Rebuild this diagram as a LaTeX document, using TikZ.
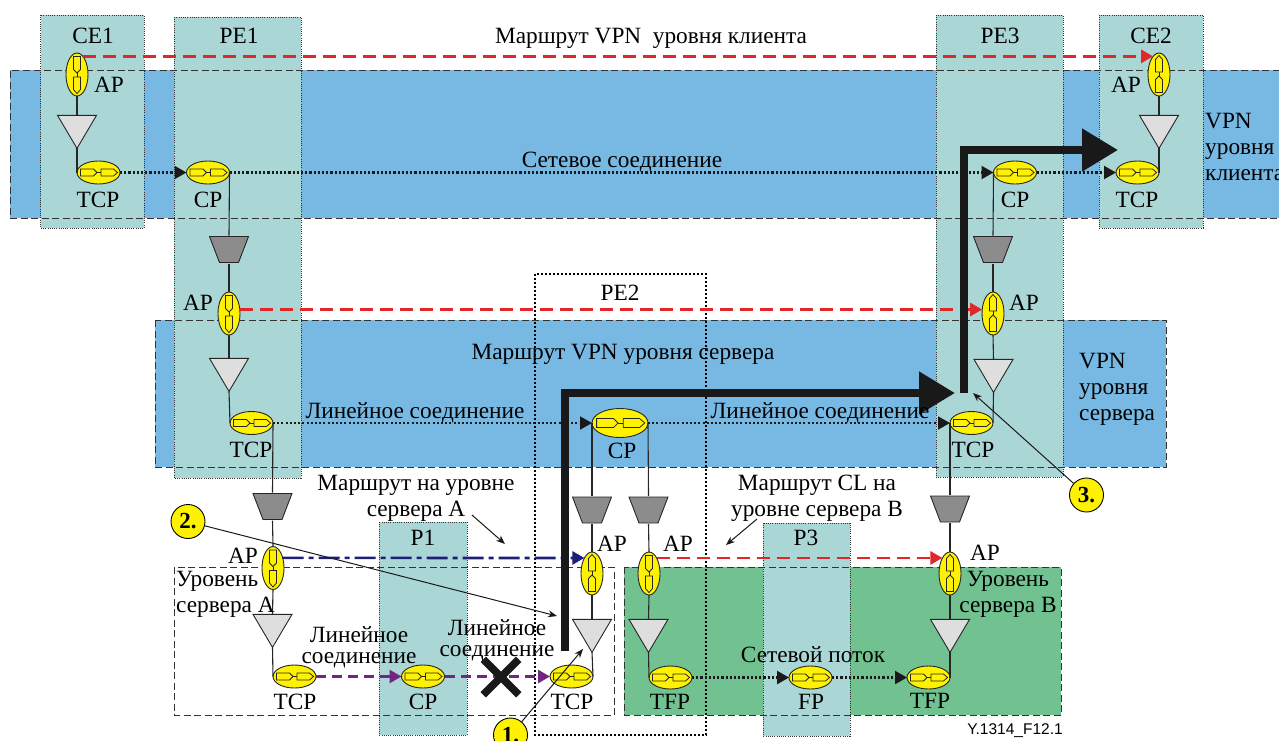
\documentclass[tikz,border=0pt]{standalone}
\usepackage{fontspec}
\setmainfont{Liberation Serif}
\newfontfamily\figsans{Liberation Sans}
\usetikzlibrary{arrows.meta,shapes.geometric,shapes.misc}
\definecolor{bandblue}{HTML}{78B9E4}
\definecolor{zoneteal}{HTML}{AAD6D6}
\definecolor{zonegreen}{HTML}{72C191}
\definecolor{portyellow}{HTML}{FFF200}
\definecolor{routered}{HTML}{E0282A}
\definecolor{routenavy}{HTML}{1E1E78}
\definecolor{linkpurple}{HTML}{72267F}
\newcommand{\portglyphh}[1]{%
  \begin{scope}[shift={(path picture bounding box.center)},draw=black!85,line width=0.8pt]
    \draw ({-18*#1},-3.5*#1) -- ({-5*#1},-3.5*#1) -- ({-1.5*#1},0) -- ({-5*#1},3.5*#1) -- ({-18*#1},3.5*#1) -- cycle;
    \draw ({-1.5*#1},0) -- ({2.5*#1},0);
    \draw ({2.5*#1},-3.5*#1) -- ({15*#1},-3.5*#1) -- ({19*#1},0) -- ({15*#1},3.5*#1) -- ({2.5*#1},3.5*#1) -- cycle;
  \end{scope}}
\newcommand{\portglyphv}[1]{%
  \begin{scope}[shift={(path picture bounding box.center)},draw=black!85,line width=0.8pt]
    \draw (-3.5,{-18*#1}) -- (-3.5,{-5*#1}) -- (0,{-1.5*#1}) -- (3.5,{-5*#1}) -- (3.5,{-18*#1}) -- cycle;
    \draw (0,{-1.5*#1}) -- (0,{2.5*#1});
    \draw (-3.5,{2.5*#1}) -- (-3.5,{15*#1}) -- (0,{19*#1}) -- (3.5,{15*#1}) -- (3.5,{2.5*#1}) -- cycle;
  \end{scope}}
\newcommand{\muxglyph}{%
  \draw[shift={(path picture bounding box.center)},draw=black!85,line width=0.9pt,fill=black!45]
    (-19.5,-13) -- (19.5,-13) -- (9.5,13) -- (-9.5,13) -- cycle;}
\tikzset{
  portbase/.style={ellipse,draw=black!85,line width=0.9pt,fill=portyellow,inner sep=0pt,outer sep=0pt},
  porth/.style={portbase,minimum width=43,minimum height=23,path picture={\portglyphh{1}}},
  portbig/.style={portbase,minimum width=56,minimum height=29,path picture={\portglyphh{1.3}}},
  portup/.style={portbase,minimum width=22,minimum height=43,path picture={\portglyphv{-1}}},
  portdown/.style={portbase,minimum width=22,minimum height=43,path picture={\portglyphv{1}}},
  adapt/.style={isosceles triangle,isosceles triangle stretches,shape border rotate=-90,draw=black!85,line width=0.9pt,fill=black!13,inner sep=0pt,outer sep=0pt,minimum width=39,minimum height=33},
  mux/.style={rectangle,inner sep=0pt,outer sep=0pt,minimum width=41,minimum height=28,path picture={\muxglyph}},
  lbl/.style={inner sep=0pt,yshift=-1pt,font=\fontsize{23.3}{26}\selectfont},
  zone/.style={fill=zoneteal,draw=black!80,line width=0.9pt,dash pattern=on 1pt off 1.2pt},
  band/.style={draw=black!80,line width=0.9pt,dash pattern=on 7pt off 3.5pt},
  wire/.style={draw=black!85,line width=1.1pt},
  flowdot/.style={->,black!90,line width=2.2pt,dash pattern=on 2.2pt off 2pt},
  linkdot/.style={->,black!90,line width=1.8pt,dash pattern=on 2pt off 2.2pt},
  redroute/.style={->,routered,line width=2.8pt,dash pattern=on 13pt off 7pt},
  navyroute/.style={->,routenavy,line width=2.6pt,dash pattern=on 21pt off 5pt on 5pt off 5pt},
  linkdash/.style={->,linkpurple,line width=2.6pt,dash pattern=on 10pt off 6pt},
  fault/.style={-{Triangle[length=36pt,width=41pt]},black!90,line width=8pt},
  callout/.style={circle,draw=black,line width=0.9pt,fill=portyellow,inner sep=0pt,minimum size=34,font=\bfseries\fontsize{23}{23}\selectfont},
  pointer/.style={-{Stealth[length=9pt,width=7pt]},black!90,line width=1pt}
}
\begin{document}
\begin{tikzpicture}[x=1pt,y=-1pt,>={Triangle[length=12pt,width=13pt]}]
  \clip (0,0) rectangle (1279,740);
  % 绘制背景层
  \fill[bandblue] (10,70) rectangle (1290,218);
  \fill[bandblue] (155,320) rectangle (1166,467);
  \fill[zonegreen] (624,567) rectangle (1061,715);

  % 绘制设备区域
  \draw[zone] (40.5,15) rectangle (144,228);
  \draw[zone] (174,17) rectangle (301,478);
  \draw[zone] (936,15) rectangle (1063,477);
  \draw[zone] (1099,15) rectangle (1203,228);
  \draw[zone] (379,522) rectangle (467,735);
  \draw[zone] (763,523) rectangle (850,736);

  % 绘制层的虚线边框
  \draw[band] (1290,70) -- (10,70) -- (10,218) -- (1290,218);
  \draw[band] (155,320) rectangle (1166,467);
  \draw[band] (174,567) rectangle (614,715);
  \draw[band] (624,567) rectangle (1061,715);
  \draw[black,line width=1.6pt,dash pattern=on 1.8pt off 2.2pt] (535,274) rectangle (706,735);

  % 客户层节点
  \node[portdown] (apce1) at (77,74.5) {};
  \node[adapt] (adce1) at (77,126.5) {};
  \node[porth] (tcpce1) at (98.5,172.5) {};
  \node[porth] (cppe1) at (208,172.5) {};
  \node[porth] (cppe3) at (1015,172.5) {};
  \node[portup] (apce2) at (1159,74.5) {};
  \node[adapt] (adce2) at (1159,126.5) {};
  \node[porth] (tcpce2) at (1137.5,172.5) {};

  % PE1 列
  \node[mux] (muxpe1) at (229,249.5) {};
  \node[portdown] (appe1) at (229,313.5) {};
  \node[adapt] (adpe1) at (229,369.5) {};
  \node[porth] (tcppe1) at (251.5,423) {};
  \node[mux] (muxa) at (272.5,506.5) {};
  \node[portdown] (apa) at (273,568) {};
  \node[adapt] (ada) at (272.5,625.5) {};
  \node[porth] (tcpa) at (294.5,676.5) {};
  \node[porth] (cpa) at (423,676.5) {};

  % PE2 列
  \node[portbig] (cppe2) at (620,423) {};
  \node[mux] (muxpe2a) at (592,510) {};
  \node[mux] (muxpe2b) at (648.5,510) {};
  \node[portup] (apb) at (592,573.5) {};
  \node[portdown] (apc) at (649,573.5) {};
  \node[adapt] (adb) at (592,630.5) {};
  \node[adapt] (adc) at (648.5,630.5) {};
  \node[porth] (tcpb) at (571.5,676.5) {};
  \node[porth] (tfpa) at (670.5,677.5) {};
  \node[porth] (fpb) at (810.5,677.5) {};

  % PE3 列
  \node[mux] (muxpe3) at (993,249.5) {};
  \node[portup] (appe3) at (993,313.5) {};
  \node[adapt] (adpe3) at (993.5,370.5) {};
  \node[porth] (tcppe3) at (971.5,423) {};
  \node[mux] (muxd) at (950,509) {};
  \node[portup] (apd) at (950,573.5) {};
  \node[adapt] (add) at (950,630.5) {};
  \node[porth] (tfpd) at (928.5,677.5) {};

  % 绘制垂直连线
  \draw[wire] (apce1) -- (adce1.north);
  \draw[wire] (adce1.south) -- (tcpce1.west);
  \draw[wire] (apce2) -- (adce2.north);
  \draw[wire] (adce2.south) -- (tcpce2.east);
  \draw[wire] (cppe1.east) -- (muxpe1.north);
  \draw[wire] (muxpe1.south) -- (appe1.north);
  \draw[wire] (appe1.south) -- (adpe1.north);
  \draw[wire] (adpe1.south) -- (tcppe1.west);
  \draw[wire] (tcppe1.east) -- (muxa.north);
  \draw[wire] (muxa.south) -- (apa.north);
  \draw[wire] (apa.south) -- (ada.north);
  \draw[wire] (ada.south) -- (tcpa.west);
  \draw[wire] (cppe2.west) -- (muxpe2a.north);
  \draw[wire] (cppe2.east) -- (muxpe2b.north);
  \draw[wire] (muxpe2a.south) -- (apb.north);
  \draw[wire] (muxpe2b.south) -- (apc.north);
  \draw[wire] (apb.south) -- (adb.north);
  \draw[wire] (apc.south) -- (adc.north);
  \draw[wire] (adb.south) -- (tcpb.east);
  \draw[wire] (adc.south) -- (tfpa.west);
  \draw[wire] (cppe3.west) -- (muxpe3.north);
  \draw[wire] (muxpe3.south) -- (appe3.north);
  \draw[wire] (appe3.south) -- (adpe3.north);
  \draw[wire] (adpe3.south) -- (tcppe3.east);
  \draw[wire] (tcppe3.west) -- (muxd.north);
  \draw[wire] (muxd.south) -- (apd.north);
  \draw[wire] (apd.south) -- (add.north);
  \draw[wire] (add.south) -- (tfpd.east);

  % 绘制水平连接
  \draw[redroute] (apce1.72) -- (apce2.108);
  \draw[redroute] (appe1.20) -- (appe3.160);
  \draw[redroute] (apc.64) -- (apd.116);
  \draw[navyroute] (apa.46) -- (apb.116);
  \draw[flowdot] (tcpce1.east) -- (cppe1.west);
  \draw[flowdot] (cppe1.east) -- (cppe3.west);
  \draw[flowdot] (cppe3.east) -- (tcpce2.west);
  \draw[linkdot] (tcppe1.east) -- (cppe2.west);
  \draw[linkdot] (cppe2.east) -- (tcppe3.west);
  \draw[linkdash] (tcpa.east) -- (cpa.west);
  \draw[linkdash] (cpa.east) -- (tcpb.west);
  \draw[flowdot] (tfpa.east) -- (fpb.west);
  \draw[flowdot] (fpb.east) -- (tfpd.west);

  % 绘制粗箭头
  \coordinate (faultstart) at (564.5,651);
  \coordinate (faultcorner) at (564.5,393);
  \coordinate (faultend) at (955,393);
  \coordinate (restorestart) at (964,393);
  \coordinate (restorecorner) at (964,150);
  \coordinate (restoreend) at (1118,150);
  \draw[fault] (faultstart) -- (faultcorner) -- (faultend);
  \draw[fault] (restorestart) -- (restorecorner) -- (restoreend);
  \node[cross out,draw=black!90,line width=7.5pt,inner sep=0pt,minimum size=28] (failmark) at (501,677) {};

  % 绘制编号标注
  \node[callout] (mark1) at (510.5,735) {1.};
  \node[callout] (mark2) at (188,521.5) {2.};
  \node[callout] (mark3) at (1086.5,495) {3.};
  \coordinate (point1) at (583,649);
  \coordinate (point2) at (557,616);
  \coordinate (point3) at (973,393);
  \draw[pointer] (mark1) -- (point1);
  \draw[pointer] (mark2) -- (point2);
  \draw[pointer] (mark3) -- (point3);
  \coordinate (routeastart) at (472,515);
  \coordinate (routeaend) at (505,544);
  \coordinate (routebstart) at (757,519);
  \coordinate (routebend) at (726,545);
  \draw[pointer] (routeastart) -- (routeaend);
  \draw[pointer] (routebstart) -- (routebend);

  % 标注文字
  \node[lbl] (ce1) at (93,35) {CE1};
  \node[lbl] (pe1) at (239,35) {PE1};
  \node[lbl] (pe2) at (620,292) {PE2};
  \node[lbl] (pe3) at (1000,35) {PE3};
  \node[lbl] (ce2) at (1151,35) {CE2};
  \node[lbl] (p1) at (423,537) {P1};
  \node[lbl] (p3) at (806,537) {P3};
  \node[lbl] (aptce1) at (109,84) {AP};
  \node[lbl] (aptce2) at (1126,84) {AP};
  \node[lbl] (aptpe1) at (198,302) {AP};
  \node[lbl] (aptpe3) at (1024,302) {AP};
  \node[lbl] (apta) at (243,555) {AP};
  \node[lbl] (aptb) at (612,543) {AP};
  \node[lbl] (aptc) at (678,543) {AP};
  \node[lbl] (aptd) at (985,552) {AP};
  \node[lbl] (tcptce1) at (98,199) {TCP};
  \node[lbl] (cptpe1) at (208,199) {CP};
  \node[lbl] (cptpe3) at (1015,199) {CP};
  \node[lbl] (tcptce2) at (1137,199) {TCP};
  \node[lbl] (tcptpe1) at (251,449) {TCP};
  \node[lbl] (cptpe2) at (622,450) {CP};
  \node[lbl] (tcptpe3) at (973,449) {TCP};
  \node[lbl] (tcpta) at (295,701) {TCP};
  \node[lbl] (cpta) at (423,701) {CP};
  \node[lbl] (tcptb) at (572,701) {TCP};
  \node[lbl] (tfpta) at (670,701) {TFP};
  \node[lbl] (fptb) at (811,701) {FP};
  \node[lbl] (tfptd) at (930,700) {TFP};
  \node[lbl] (routeclient) at (651,37.5) {Маршрут VPN\ \ уровня клиента};
  \node[lbl] (netconn) at (622,161) {Сетевое соединение};
  \node[lbl,align=left,anchor=west] (vpnclient) at (1205,146) {VPN\\уровня\\клиента};
  \node[lbl] (routeserver) at (623,353) {Маршрут VPN уровня сервера};
  \node[lbl,align=left,anchor=west] (vpnserver) at (1079,388) {VPN\\уровня\\сервера};
  \node[lbl] (linkleft) at (415,412) {Линейное соединение};
  \node[lbl] (linkright) at (820,412) {Линейное соединение};
  \node[lbl,align=center] (routea) at (416,497) {Маршрут на уровне\\сервера A};
  \node[lbl,align=center] (routeb) at (817,497) {Маршрут CL на\\уровне сервера B};
  \node[lbl,align=left,anchor=west] (levela) at (176,593) {Уровень\\сервера A};
  \node[lbl,align=center] (levelb) at (1008,593) {Уровень\\сервера B};
  \node[lbl,align=center] (linka) at (359,646) {Линейное\\[-5pt]соединение};
  \node[lbl,align=center] (linkb) at (497,639) {Линейное\\[-5pt]соединение};
  \node[lbl] (netflow) at (813,654) {Сетевой поток};
  \node[inner sep=0pt,font=\figsans\fontsize{15.5}{17}\selectfont] (figid) at (1015,731) {Y.1314\_F12.1};
\end{tikzpicture}
\end{document}
